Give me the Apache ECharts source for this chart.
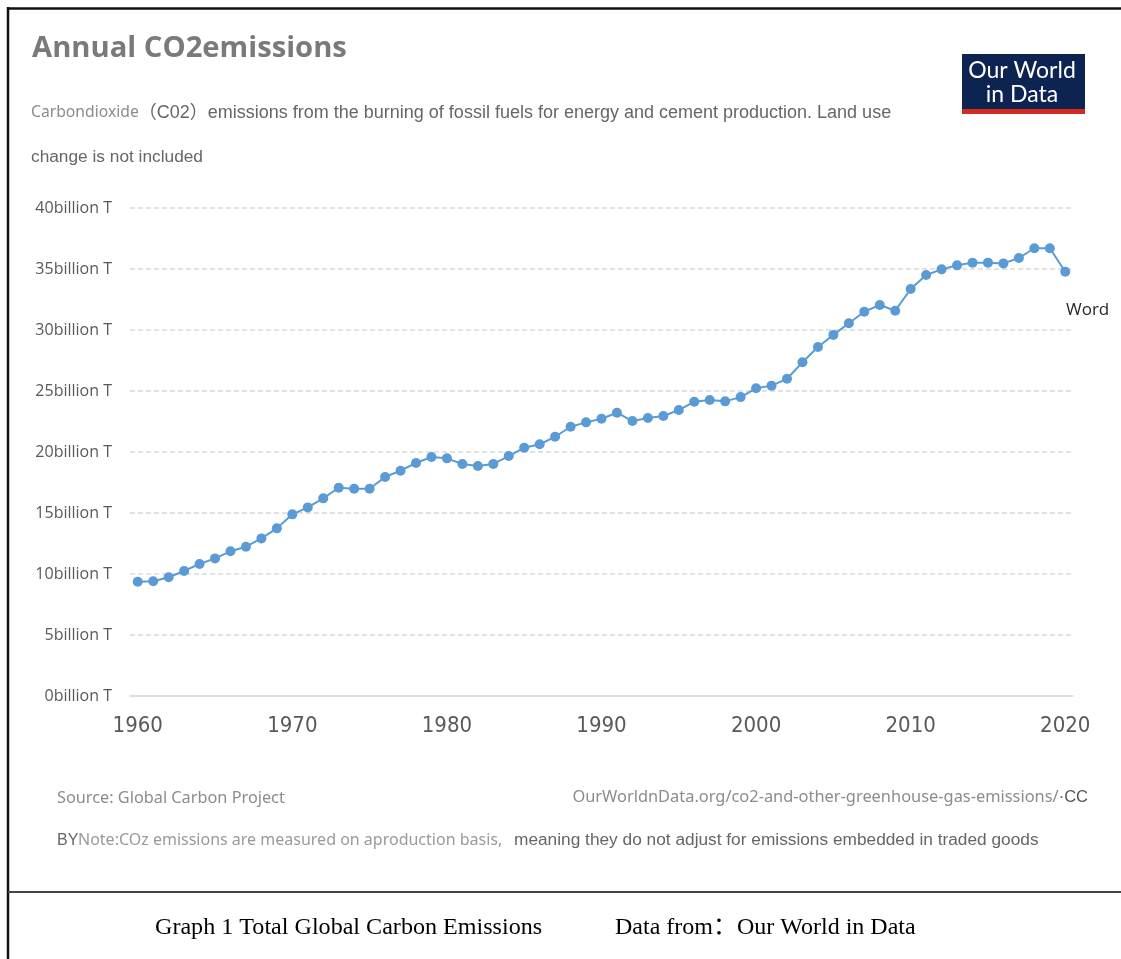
<!DOCTYPE html>
<html>
<head>
<meta charset="utf-8">
<script src="https://cdn.jsdelivr.net/npm/echarts@6/dist/echarts.min.js"></script>
<style>
html,body{margin:0;padding:0;background:#fff;}
#chart{width:1121px;height:959px;}
</style>
</head>
<body>
<div id="chart"></div>
<script>
// Data (billion tonnes of CO2)
const years = [];
for (let y = 1960; y <= 2020; y++) years.push(String(y));
const emissions = [
  9.37, 9.40, 9.73, 10.25, 10.82, 11.28, 11.86, 12.24, 12.92, 13.74,
  14.89, 15.46, 16.20, 17.07, 16.99, 16.99, 17.95, 18.47, 19.10, 19.59,
  19.48, 19.02, 18.85, 19.02, 19.67, 20.35, 20.63, 21.25, 22.07, 22.43,
  22.73, 23.22, 22.54, 22.79, 22.95, 23.44, 24.12, 24.26, 24.15, 24.50,
  25.22, 25.44, 26.00, 27.35, 28.60, 29.60, 30.55, 31.50, 32.05, 31.58,
  33.36, 34.51, 34.97, 35.30, 35.52, 35.52, 35.46, 35.90, 36.70, 36.70,
  34.78
];
const yTicks = { min: 0, max: 40, interval: 5 };

const chart = echarts.init(document.getElementById('chart'), null, { renderer: 'canvas' });
const greyTxt = '#595959';

chart.setOption({
  backgroundColor: '#ffffff',
  animation: false,
  grid: { left: 130, right: 48, top: 208, bottom: 263, containLabel: false },
  xAxis: {
    type: 'category',
    data: years,
    boundaryGap: true,
    axisLine: { show: true, lineStyle: { color: '#d9d9d9', width: 1.5 } },
    axisTick: { show: false },
    axisLabel: {
      interval: function (idx) { return idx % 10 === 0; },
      margin: 19,
      color: greyTxt,
      fontSize: 22,
      fontFamily: '"Liberation Sans Narrow", "DejaVu Sans Condensed", sans-serif'
    },
    splitLine: { show: false }
  },
  yAxis: {
    type: 'value',
    min: yTicks.min, max: yTicks.max, interval: yTicks.interval,
    axisLine: { show: false },
    axisTick: { show: false },
    axisLabel: {
      formatter: '{value}billion T',
      margin: 18,
      color: greyTxt,
      fontSize: 16,
      fontFamily: '"Open Sans", sans-serif'
    },
    splitLine: { show: true, lineStyle: { color: '#d9d9d9', width: 1.5, type: [5, 3] } }
  },
  series: [{
    type: 'line',
    data: emissions,
    symbol: 'circle',
    symbolSize: 10,
    showAllSymbol: true,
    lineStyle: { color: '#5b9bd5', width: 2 },
    itemStyle: { color: '#5b9bd5' }
  }],
  graphic: [
    // frame lines
    { type: 'line', shape: { x1: 7, y1: 8.5, x2: 1121, y2: 8.5 }, style: { stroke: '#111', lineWidth: 2.5 } },
    { type: 'line', shape: { x1: 8, y1: 7, x2: 8, y2: 959 }, style: { stroke: '#111', lineWidth: 2.5 } },
    { type: 'line', shape: { x1: 8, y1: 892, x2: 1121, y2: 892 }, style: { stroke: '#444', lineWidth: 2 } },
    // title
    { type: 'text', left: 32, top: 34, style: {
        text: 'Annual CO2emissions', fill: '#7a7a7a',
        font: 'bold 29.2px "Open Sans", "Noto Sans", sans-serif' } },
    // subtitle
    { type: 'text', left: 31, top: 104, style: {
        text: '{a|Carbondioxide}{b|（C02）emissions from the burning of fossil fuels for energy and cement production. Land use}',
        rich: {
          a: { fill: '#8c8c8c', fontSize: 15.7, fontFamily: '"Noto Sans", sans-serif', lineHeight: 22 },
          b: { fill: '#666666', fontSize: 18, fontFamily: '"Liberation Sans", Arial, "Noto Sans CJK SC", sans-serif', lineHeight: 22 }
        } } },
    { type: 'text', left: 31, top: 149, style: {
        text: 'change is not included', fill: '#666666',
        font: '17.3px "Liberation Sans", Arial, sans-serif' } },
    // logo
    { type: 'rect', shape: { x: 962, y: 54, width: 123, height: 56 }, style: { fill: '#0d2352' } },
    { type: 'rect', shape: { x: 962, y: 109, width: 123, height: 5 }, style: { fill: '#d42b21' } },
    { type: 'text', x: 1022, y: 71, style: {
        text: 'Our World', fill: '#ffffff', align: 'center', verticalAlign: 'middle',
        font: '23px Lato, "Open Sans", sans-serif' } },
    { type: 'text', x: 1022, y: 95, style: {
        text: 'in Data', fill: '#ffffff', align: 'center', verticalAlign: 'middle',
        font: '23px Lato, "Open Sans", sans-serif' } },
    // "Word" label
    { type: 'text', left: 1066, top: 302, style: {
        text: 'Word', fill: '#262626', font: '17px "Open Sans", sans-serif' } },
    // footer
    { type: 'text', left: 57, top: 790, style: {
        text: 'Source: Global Carbon Project', fill: '#8c8c8c',
        font: '16.3px "Noto Sans", sans-serif' } },
    { type: 'text', right: 33, top: 789, style: {
        text: '{a|OurWorldnData.org/co2-and-other-greenhouse-gas-emissions/}{b|·CC}',
        rich: {
          a: { fill: '#8c8c8c', fontSize: 16.4, fontFamily: '"Noto Sans", sans-serif', lineHeight: 22 },
          b: { fill: '#555555', fontSize: 16.5, fontFamily: '"Liberation Sans", Arial, sans-serif', lineHeight: 22 }
        } } },
    { type: 'text', x: 57, y: 841, style: {
        text: 'BY', fill: '#666666', verticalAlign: 'middle',
        font: '16px "Liberation Sans", Arial, sans-serif' } },
    { type: 'text', x: 78, y: 840, style: {
        text: 'Note:COz emissions are measured on aproduction basis,', fill: '#9a9a9a', verticalAlign: 'middle',
        font: '16px "Noto Sans", sans-serif' } },
    { type: 'text', left: 514, top: 832, style: {
        text: 'meaning they do not adjust for emissions embedded in traded goods', fill: '#666666',
        font: '17.3px "Liberation Sans", Arial, sans-serif' } },
    // caption
    { type: 'text', left: 155, top: 916, style: {
        text: 'Graph 1 Total Global Carbon Emissions', fill: '#000000',
        font: '24.1px "Liberation Serif", "Times New Roman", serif' } },
    { type: 'text', left: 615, top: 916, style: {
        text: 'Data from：Our World in Data', fill: '#000000',
        font: '24px "Liberation Serif", "Times New Roman", "Noto Sans CJK SC", serif' } }
  ]
});
</script>
</body>
</html>
